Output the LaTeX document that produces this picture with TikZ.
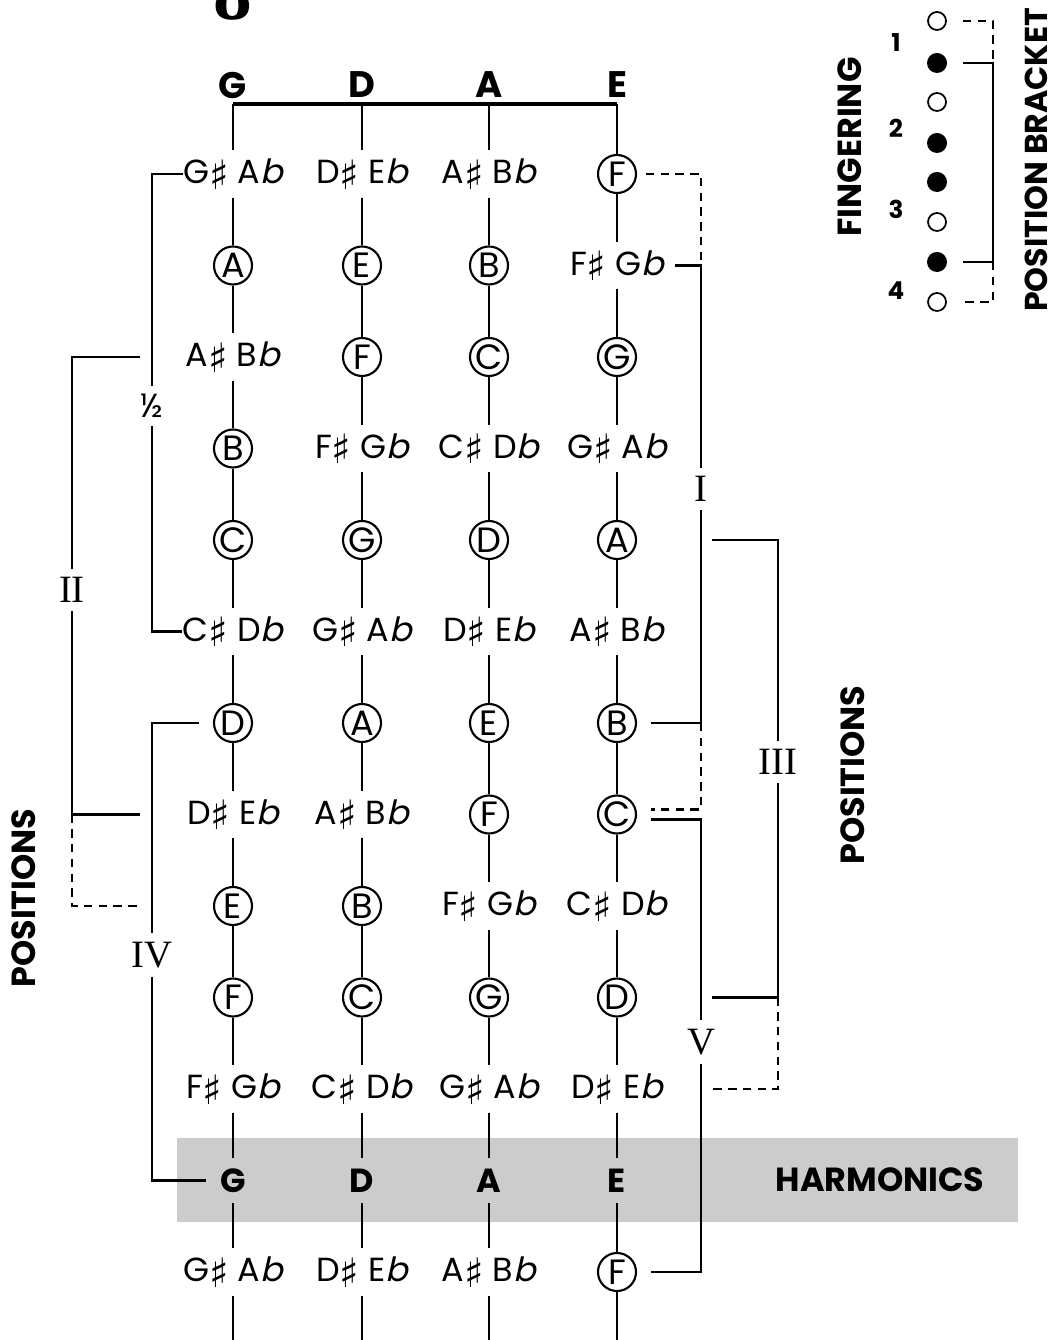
\documentclass[tikz,border=0pt]{standalone}
\usepackage{fontspec}
\setmainfont{Poppins}
\newfontfamily\sharpfont{DejaVu Sans}
\newfontfamily\flatfont[FakeSlant=0.22]{Poppins}
\newfontfamily\romfont{Liberation Serif}
\usetikzlibrary{positioning,calc}
\definecolor{cBand}{RGB}{204,204,204}
\newcommand{\shp}{\raisebox{-0.16em}{\sharpfont\fontsize{11.5}{12}\selectfont\char"266F}}
\newcommand{\flt}{{\flatfont b}}
\newcommand{\setnote}[1]{%
	\ifcase#1 \def\nsty{nat}\def\nlab{A}%
	\or\def\nsty{acc}\def\nlab{A\shp\ B\flt}%
	\or\def\nsty{nat}\def\nlab{B}%
	\or\def\nsty{nat}\def\nlab{C}%
	\or\def\nsty{acc}\def\nlab{C\shp\ D\flt}%
	\or\def\nsty{nat}\def\nlab{D}%
	\or\def\nsty{acc}\def\nlab{D\shp\ E\flt}%
	\or\def\nsty{nat}\def\nlab{E}%
	\or\def\nsty{nat}\def\nlab{F}%
	\or\def\nsty{acc}\def\nlab{F\shp\ G\flt}%
	\or\def\nsty{nat}\def\nlab{G}%
	\or\def\nsty{acc}\def\nlab{G\shp\ A\flt}%
	\fi}
\tikzset{
	nat/.style={circle, draw, line width=0.6pt, minimum size=0.38cm,
		inner sep=0pt, font=\fontsize{10}{11}\selectfont},
	acc/.style={inner sep=0pt, minimum height=0.46cm,
		font=\fontsize{9.5}{11}\selectfont},
	harm/.style={inner sep=0pt, minimum height=0.44cm,
		font=\fontsize{9.5}{11}\selectfont\bfseries},
	strlab/.style={inner sep=0pt, font=\fontsize{10.5}{12}\selectfont\bfseries},
	str/.style={line width=0.35pt},
	nut/.style={line width=0.9pt},
	brk/.style={line width=0.6pt},
	dbrk/.style={line width=0.6pt, dash pattern=on 2.4pt off 1.8pt},
	posnum/.style={inner xsep=0pt, inner ysep=0.08cm,
		font=\romfont\fontsize{11}{12}\selectfont},
	sidelab/.style={inner sep=0pt, rotate=90,
		font=\fontsize{9.5}{11}\selectfont\bfseries},
	odot/.style={circle, draw, line width=0.5pt, minimum size=0.18cm, inner sep=0pt},
	fdot/.style={circle, fill=black, minimum size=0.2cm, inner sep=0pt},
	fnum/.style={inner sep=0pt, font=\fontsize{7}{8}\selectfont\bfseries},
}
\begin{document}
\begin{tikzpicture}[x=0.01cm,y=-0.01cm]
	\useasboundingbox (0,0) rectangle (1055,1340);
	\fill[cBand] (177,1138) rectangle (1018,1222);
	\node[anchor=base, font=\romfont\bfseries\fontsize{22}{24}\selectfont] (pg) at (233,20) {8};
	\foreach \s/\xs/\op in {G/233/10, D/362/5, A/489/0, E/617/7}{
		\node[strlab] (top\s) at (\xs,85) {\s};
		\coordinate (nut\s) at (\xs,104);
		\coordinate (end\s) at (\xs,1340);
		\foreach \r in {0,...,12}{
			\pgfmathtruncatemacro{\p}{mod(\op+\r+1,12)}
			\pgfmathsetmacro{\y}{174+91.5*\r}
			\setnote{\p}
			\ifnum\r=11 \def\nsty{harm}\def\nlab{\s}\fi
			\node[\nsty] (\s\r) at (\xs,\y) {\nlab};
			\ifnum\r=0
			\draw[str] (nut\s) -- (\s\r);
			\else
			\pgfmathtruncatemacro{\q}{\r-1}
			\draw[str] (\s\q) -- (\s\r);
			\fi
		}
		\draw[str] (\s12) -- (end\s);
	}
	\draw[nut] (nutG) -- (nutE);

	\node[inner xsep=0pt, inner ysep=0.08cm, font=\fontsize{9.5}{11}\selectfont] (half) at (152,406) {½};
	\node[posnum] (posII) at (72,590) {II};
	\node[posnum] (posIV) at (152,955) {IV};
	\node[posnum] (posI) at (701,489) {I};
	\node[posnum] (posIII) at (778,762) {III};
	\node[posnum] (posV) at (701,1042) {V};
	\coordinate (tII) at (140,0);
	\coordinate (tIII) at (712,0);

	\draw[brk] (G0.west) -| (half.north);
	\draw[brk] (half.south) |- (G5.west);
	\draw[brk] (G2 -| tII) -| (posII.north);
	\draw[brk] (posII.south) |- (G7 -| tII);
	\draw[dbrk] (G7 -| posII) |- (G8 -| tII);
	\draw[brk, shorten <=4pt] (G6.west) -| (posIV.north);
	\draw[brk, shorten >=4pt] (posIV.south) |- (G11.west);
	\draw[dbrk, shorten <=2.5pt] (E0.east) -| (E1 -| posI);
	\draw[brk, shorten <=3pt] (E1.east) -| (posI.north);
	\draw[brk, shorten >=4pt] (posI.south) |- (E6.east);
	\draw[dbrk, shorten >=4pt] (E6 -| posI) |- ([yshift=0.05cm]E7.east);
	\draw[brk, shorten <=4pt] ([yshift=-0.05cm]E7.east) -| (posV.north);
	\draw[brk, shorten >=4pt] (posV.south) |- (E12.east);
	\draw[brk] (E4 -| tIII) -| (posIII.north);
	\draw[brk] (posIII.south) |- (E9 -| tIII);
	\draw[dbrk] (E9 -| posIII) |- (E10 -| tIII);

	\node[sidelab] (posL) at (24,898) {POSITIONS};
	\node[sidelab] (posR) at (853,775) {POSITIONS};
	\node[harm] (harmlab) at (880,1180) {HARMONICS};

	\foreach \i/\yy/\ty in {1/21/odot, 2/63/fdot, 3/102/odot, 4/143/fdot,
		5/182/fdot, 6/222/odot, 7/262/fdot, 8/302/odot}
	\node[\ty] (dot\i) at (937,\yy) {};
	\foreach \n/\yy in {1/43, 2/128, 3/209, 4/291}
	\node[fnum] (fn\n) at (896,\yy) {\n};
	\node[sidelab] (fing) at (850,147) {FINGERING};
	\node[sidelab, font=\fontsize{9}{10}\selectfont\bfseries] (pbr) at (1036,160) {POSITION BRACKET};
	\coordinate (lg) at (993,0);
	\coordinate (lgt) at (963,0);
	\draw[brk] (dot2 -| lgt) -| (dot7 -| lg) -- (dot7 -| lgt);
	\draw[dbrk] (dot1 -| lgt) -| (dot2 -| lg);
	\draw[dbrk] (dot7 -| lg) |- (dot8 -| lgt);
\end{tikzpicture}
\end{document}
